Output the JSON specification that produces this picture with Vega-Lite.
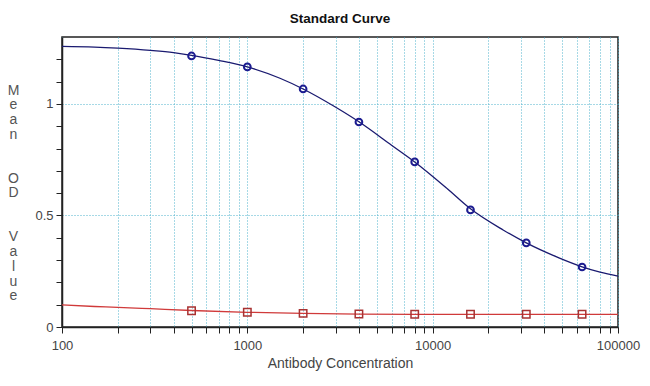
{
  "$schema": "https://vega.github.io/schema/vega-lite/v6.json",
  "autosize": {"type": "none"},
  "padding": {"left": 62, "top": 37, "right": 32, "bottom": 59},
  "width": 556,
  "height": 290,
  "background": "white",
  "title": {"text": "Standard Curve", "fontSize": 13.5, "fontWeight": "bold", "font": "Liberation Sans", "color": "#111", "offset": 12},
  "config": {
    "view": {"stroke": "#222", "strokeWidth": 1.5},
    "axis": {"labelFont": "Liberation Sans", "titleFont": "Liberation Sans", "labelColor": "#444", "titleColor": "#444", "labelFontSize": 13, "titleFontSize": 14, "titleFontWeight": "normal", "domainColor": "#222", "domainWidth": 1.5, "tickColor": "#222", "tickSize": 6, "gridColor": "#4fb3cc", "gridDash": [1, 2], "gridWidth": 1}
  },
  "datasets": {
    "curve": [
      {"x": 100, "y": 1.258, "series": "std"},
      {"x": 150, "y": 1.255, "series": "std"},
      {"x": 200, "y": 1.25, "series": "std"},
      {"x": 300, "y": 1.24, "series": "std"},
      {"x": 400, "y": 1.23, "series": "std"},
      {"x": 500, "y": 1.218, "series": "std"},
      {"x": 700, "y": 1.195, "series": "std"},
      {"x": 1000, "y": 1.166, "series": "std"},
      {"x": 1500, "y": 1.115, "series": "std"},
      {"x": 2000, "y": 1.067, "series": "std"},
      {"x": 3000, "y": 0.985, "series": "std"},
      {"x": 4000, "y": 0.92, "series": "std"},
      {"x": 6000, "y": 0.815, "series": "std"},
      {"x": 8000, "y": 0.74, "series": "std"},
      {"x": 12000, "y": 0.62, "series": "std"},
      {"x": 16000, "y": 0.53, "series": "std"},
      {"x": 24000, "y": 0.435, "series": "std"},
      {"x": 32000, "y": 0.377, "series": "std"},
      {"x": 48000, "y": 0.31, "series": "std"},
      {"x": 64000, "y": 0.27, "series": "std"},
      {"x": 80000, "y": 0.246, "series": "std"},
      {"x": 100000, "y": 0.228, "series": "std"},
      {"x": 100, "y": 0.099, "series": "blank"},
      {"x": 150, "y": 0.092, "series": "blank"},
      {"x": 200, "y": 0.088, "series": "blank"},
      {"x": 300, "y": 0.082, "series": "blank"},
      {"x": 500, "y": 0.074, "series": "blank"},
      {"x": 1000, "y": 0.066, "series": "blank"},
      {"x": 2000, "y": 0.061, "series": "blank"},
      {"x": 4000, "y": 0.058, "series": "blank"},
      {"x": 8000, "y": 0.057, "series": "blank"},
      {"x": 16000, "y": 0.057, "series": "blank"},
      {"x": 32000, "y": 0.057, "series": "blank"},
      {"x": 64000, "y": 0.057, "series": "blank"},
      {"x": 100000, "y": 0.057, "series": "blank"}
    ],
    "points": [
      {"x": 500, "y": 1.215, "series": "std"},
      {"x": 1000, "y": 1.166, "series": "std"},
      {"x": 2000, "y": 1.067, "series": "std"},
      {"x": 4000, "y": 0.919, "series": "std"},
      {"x": 8000, "y": 0.74, "series": "std"},
      {"x": 16000, "y": 0.525, "series": "std"},
      {"x": 32000, "y": 0.377, "series": "std"},
      {"x": 64000, "y": 0.269, "series": "std"},
      {"x": 500, "y": 0.073, "series": "blank"},
      {"x": 1000, "y": 0.066, "series": "blank"},
      {"x": 2000, "y": 0.061, "series": "blank"},
      {"x": 4000, "y": 0.058, "series": "blank"},
      {"x": 8000, "y": 0.057, "series": "blank"},
      {"x": 16000, "y": 0.057, "series": "blank"},
      {"x": 32000, "y": 0.057, "series": "blank"},
      {"x": 64000, "y": 0.057, "series": "blank"}
    ]
  },
  "encoding": {
    "x": {
      "field": "x", "type": "quantitative",
      "scale": {"type": "log", "domain": [100, 100000], "nice": false},
      "axis": {
        "title": "Antibody Concentration",
        "values": [100,200,300,400,500,600,700,800,900,1000,2000,3000,4000,5000,6000,7000,8000,9000,10000,20000,30000,40000,50000,60000,70000,80000,90000,100000],
        "labelExpr": "indexof(['100','1000','10000','100000'], toString(datum.value)) >= 0 ? toString(datum.value) : ''",
        "labelPadding": 6,
        "titlePadding": 4,
        "labelOverlap": false,
        "labelFlush": false,
        "grid": true
      }
    },
    "y": {
      "field": "y", "type": "quantitative",
      "scale": {"domain": [0, 1.3], "nice": false},
      "axis": {
        "title": ["M","e","a","n","\u2800","\u2800","O","D","\u2800","\u2800","V","a","l","u","e"],
        "titleAngle": 0,
        "titleFontSize": 14,
        "titleLineHeight": 14.7,
        "titleBaseline": "middle",
        "titleAlign": "center",
        "titleX": -49,
        "titleY": 53,
        "titleColor": "#555",
        "values": [0,0.1,0.2,0.3,0.4,0.5,0.6,0.7,0.8,0.9,1,1.1,1.2],
        "labelExpr": "datum.value == 0 || datum.value == 0.5 || datum.value == 1 ? toString(datum.value) : ''",
        "labelPadding": 3,
        "grid": true,
        "gridOpacity": {"condition": {"test": "datum.value == 0.5 || datum.value == 1", "value": 1}, "value": 0}
      }
    }
  },
  "layer": [
    {
      "data": {"name": "curve"},
      "mark": {"type": "line", "interpolate": "monotone", "strokeWidth": 1.3},
      "encoding": {
        "detail": {"field": "series"},
        "color": {"field": "series", "type": "nominal", "scale": {"domain": ["std", "blank"], "range": ["#1a1a70", "#d03a3a"]}, "legend": null}
      }
    },
    {
      "data": {"name": "points"},
      "transform": [{"filter": "datum.series == 'std'"}],
      "mark": {"type": "point", "shape": "circle", "filled": false, "size": 45, "strokeWidth": 2, "color": "#1c1c90", "opacity": 1}
    },
    {
      "data": {"name": "points"},
      "transform": [{"filter": "datum.series == 'blank'"}],
      "mark": {"type": "point", "shape": "square", "filled": false, "size": 55, "strokeWidth": 1.5, "color": "#a83232", "opacity": 1}
    }
  ]
}
